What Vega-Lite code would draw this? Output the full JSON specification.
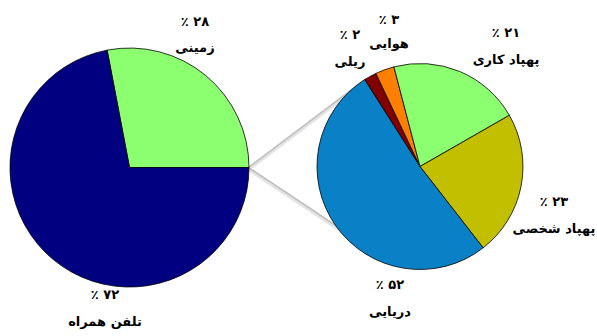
{
  "$schema": "https://vega.github.io/schema/vega-lite/v6.json",
  "width": 597,
  "height": 336,
  "padding": 0,
  "autosize": {"type": "none"},
  "background": "#ffffff",
  "config": {"view": {"stroke": null}},
  "datasets": {
    "outer": [
      {"name": "زمینی", "value": 28, "k": 1, "label": "\u200e٪ ۲۸\u200e\nزمینی"},
      {"name": "تلفن همراه", "value": 72, "k": 2, "label": "\u200e٪ ۷۲\u200e\nتلفن همراه"}
    ],
    "inner": [
      {"name": "ریلی", "value": 2, "k": 1, "label": "\u200e٪ ۲\u200e\nریلی"},
      {"name": "هوایی", "value": 3, "k": 2, "label": "\u200e٪ ۳\u200e\nهوایی"},
      {"name": "پهپاد کاری", "value": 21, "k": 3, "label": "\u200e٪ ۲۱\u200e\nپهپاد کاری"},
      {"name": "پهپاد شخصی", "value": 23, "k": 4, "label": "\u200e٪ ۲۳\u200e\nپهپاد شخصی"},
      {"name": "دریایی", "value": 52, "k": 5, "label": "\u200e٪ ۵۲\u200e\nدریایی"}
    ],
    "link": [{"part": "connector"}]
  },
  "resolve": {"scale": {"theta": "independent"}},
  "layer": [
    {
      "data": {"name": "link"},
      "mark": {"type": "rule", "color": "#e3e3e3", "strokeWidth": 4},
      "encoding": {
        "x": {"datum": 41.62, "type": "quantitative", "scale": {"domain": [0, 100], "zero": false, "nice": false}, "axis": null},
        "y": {"datum": 28.3, "type": "quantitative", "scale": {"domain": [0, 56.28], "zero": false, "nice": false, "reverse": true}, "axis": null},
        "x2": {"datum": 61.41},
        "y2": {"datum": 13.4}
      }
    },
    {
      "data": {"name": "link"},
      "mark": {"type": "rule", "color": "#e3e3e3", "strokeWidth": 4},
      "encoding": {
        "x": {"datum": 41.62, "type": "quantitative"},
        "y": {"datum": 28.3, "type": "quantitative"},
        "x2": {"datum": 60.3},
        "y2": {"datum": 40.7}
      }
    },
    {
      "data": {"name": "link"},
      "mark": {"type": "rule", "color": "#bdbdbd", "strokeWidth": 1.5},
      "encoding": {
        "x": {"datum": 41.62, "type": "quantitative"},
        "y": {"datum": 28.06, "type": "quantitative"},
        "x2": {"datum": 61.41},
        "y2": {"datum": 13.13}
      }
    },
    {
      "data": {"name": "link"},
      "mark": {"type": "rule", "color": "#bdbdbd", "strokeWidth": 1.5},
      "encoding": {
        "x": {"datum": 41.62, "type": "quantitative"},
        "y": {"datum": 28.06, "type": "quantitative"},
        "x2": {"datum": 60.3},
        "y2": {"datum": 40.47}
      }
    },
    {
      "data": {"name": "outer"},
      "mark": {"type": "arc", "outerRadius": 119.5, "stroke": "#000000", "strokeWidth": 0.8},
      "encoding": {
        "x": {"datum": 21.69, "type": "quantitative"},
        "y": {"datum": 28.06, "type": "quantitative"},
        "theta": {"field": "value", "type": "quantitative", "stack": true, "scale": {"range": [-0.1885, 6.0947]}},
        "order": {"field": "k", "type": "quantitative"},
        "color": {
          "field": "name", "type": "nominal", "legend": null,
          "scale": {
            "domain": ["زمینی", "تلفن همراه", "ریلی", "هوایی", "پهپاد کاری", "پهپاد شخصی", "دریایی"],
            "range": ["#8cff70", "#000080", "#800000", "#ff8000", "#8cff70", "#c2be00", "#0a80c6"]
          }
        }
      }
    },
    {
      "data": {"name": "inner"},
      "mark": {"type": "arc", "outerRadius": 103, "stroke": "#000000", "strokeWidth": 0.8},
      "encoding": {
        "x": {"datum": 70.35, "type": "quantitative"},
        "y": {"datum": 27.89, "type": "quantitative"},
        "theta": {"field": "value", "type": "quantitative", "stack": true, "scale": {"range": [-0.567, 5.716]}},
        "order": {"field": "k", "type": "quantitative"},
        "color": {"field": "name", "type": "nominal", "legend": null}
      }
    },
    {
      "data": {"name": "outer"},
      "transform": [{"filter": "datum.k == 1"}],
      "mark": {"type": "text", "font": "DejaVu Sans", "fontSize": 13, "fontWeight": "bold", "lineBreak": "\n", "lineHeight": 26, "align": "center", "baseline": "middle", "color": "#000000"},
      "encoding": {"x": {"datum": 32.66, "type": "quantitative"}, "y": {"datum": 3.63, "type": "quantitative"}, "text": {"field": "label"}}
    },
    {
      "data": {"name": "outer"},
      "transform": [{"filter": "datum.k == 2"}],
      "mark": {"type": "text", "font": "DejaVu Sans", "fontSize": 13, "fontWeight": "bold", "lineBreak": "\n", "lineHeight": 27, "align": "center", "baseline": "middle", "color": "#000000"},
      "encoding": {"x": {"datum": 17.59, "type": "quantitative"}, "y": {"datum": 49.41, "type": "quantitative"}, "text": {"field": "label"}}
    },
    {
      "data": {"name": "inner"},
      "transform": [{"filter": "datum.k == 1"}],
      "mark": {"type": "text", "font": "DejaVu Sans", "fontSize": 13, "fontWeight": "bold", "lineBreak": "\n", "lineHeight": 27, "align": "center", "baseline": "middle", "color": "#000000"},
      "encoding": {"x": {"datum": 58.63, "type": "quantitative"}, "y": {"datum": 5.86, "type": "quantitative"}, "text": {"field": "label"}}
    },
    {
      "data": {"name": "inner"},
      "transform": [{"filter": "datum.k == 2"}],
      "mark": {"type": "text", "font": "DejaVu Sans", "fontSize": 13, "fontWeight": "bold", "lineBreak": "\n", "lineHeight": 24, "align": "center", "baseline": "middle", "color": "#000000"},
      "encoding": {"x": {"datum": 65.16, "type": "quantitative"}, "y": {"datum": 3.35, "type": "quantitative"}, "text": {"field": "label"}}
    },
    {
      "data": {"name": "inner"},
      "transform": [{"filter": "datum.k == 3"}],
      "mark": {"type": "text", "font": "DejaVu Sans", "fontSize": 13, "fontWeight": "bold", "lineBreak": "\n", "lineHeight": 27, "align": "center", "baseline": "middle", "color": "#000000"},
      "encoding": {"x": {"datum": 84.76, "type": "quantitative"}, "y": {"datum": 5.53, "type": "quantitative"}, "text": {"field": "label"}}
    },
    {
      "data": {"name": "inner"},
      "transform": [{"filter": "datum.k == 4"}],
      "mark": {"type": "text", "font": "DejaVu Sans", "fontSize": 13, "fontWeight": "bold", "lineBreak": "\n", "lineHeight": 27, "align": "center", "baseline": "middle", "color": "#000000"},
      "encoding": {"x": {"datum": 92.8, "type": "quantitative"}, "y": {"datum": 33.84, "type": "quantitative"}, "text": {"field": "label"}}
    },
    {
      "data": {"name": "inner"},
      "transform": [{"filter": "datum.k == 5"}],
      "mark": {"type": "text", "font": "DejaVu Sans", "fontSize": 13, "fontWeight": "bold", "lineBreak": "\n", "lineHeight": 27, "align": "center", "baseline": "middle", "color": "#000000"},
      "encoding": {"x": {"datum": 65.33, "type": "quantitative"}, "y": {"datum": 47.74, "type": "quantitative"}, "text": {"field": "label"}}
    }
  ]
}
